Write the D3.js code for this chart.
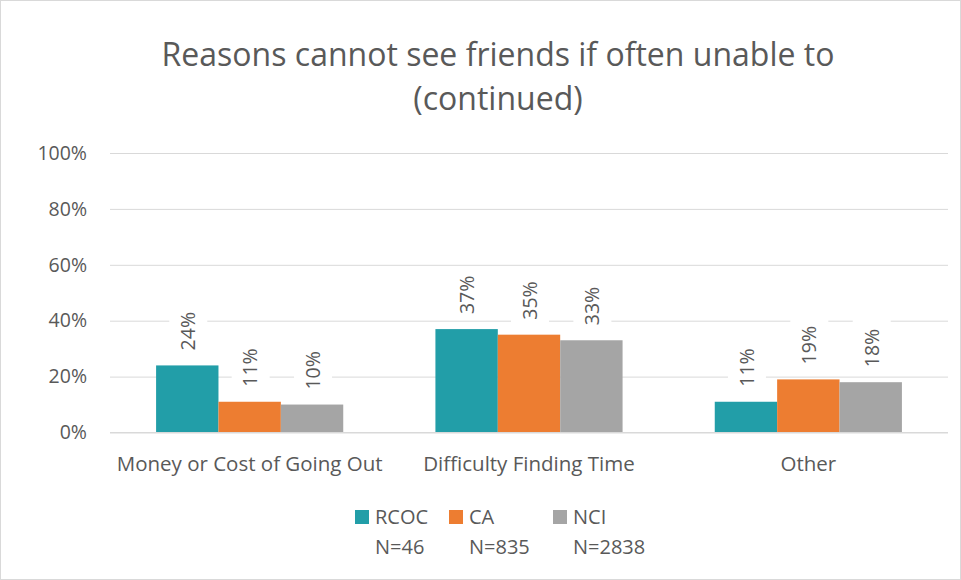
<!DOCTYPE html>
<html>
<head>
<meta charset="utf-8">
<script src="https://cdn.jsdelivr.net/npm/d3@7"></script>
<style>
  body { margin: 0; background: #fff; }
  svg { display: block; font-family: "Open Sans", "Liberation Sans", sans-serif; }
</style>
</head>
<body>
<svg id="chart" width="961" height="580"></svg>
<script>
// Chart data
const titleLines = ["Reasons cannot see friends if often unable to", "(continued)"];
const categories = ["Money or Cost of Going Out", "Difficulty Finding Time", "Other"];
const seriesNames = ["RCOC", "CA", "NCI"];
const seriesN = ["N=46", "N=835", "N=2838"];
const seriesColors = ["#229ea8", "#ed7d31", "#a5a5a5"];
const rcoc = [24, 37, 11];
const ca = [11, 35, 19];
const nci = [10, 33, 18];
const yTicks = [0, 20, 40, 60, 80, 100];

const seriesValues = [rcoc, ca, nci];

const svg = d3.select("#chart");
const W = 961, H = 580;
const textColor = "#595959";

// Outer chart border
svg.append("rect")
  .attr("x", 0.5).attr("y", 0.5)
  .attr("width", W - 1).attr("height", H - 1)
  .attr("fill", "#fff").attr("stroke", "#d9d9d9");

// Title
svg.append("g").selectAll("text")
  .data(titleLines)
  .join("text")
  .attr("x", 498)
  .attr("y", (d, i) => 66 + i * 44)
  .attr("text-anchor", "middle")
  .attr("font-size", 32)
  .attr("fill", textColor)
  .text(d => d);

const plot = { left: 110, right: 948, top: 153, bottom: 432.5 };

const x0 = d3.scaleBand()
  .domain(categories)
  .range([plot.left, plot.right])
  .paddingInner(0.33)
  .paddingOuter(0.165);

const x1 = d3.scaleBand()
  .domain(seriesNames)
  .range([0, x0.bandwidth()])
  .padding(0);

const y = d3.scaleLinear()
  .domain([0, 100])
  .range([plot.bottom, plot.top]);

// Gridlines and y-axis labels
const yAxis = d3.axisLeft(y)
  .tickValues(yTicks)
  .tickSize(-(plot.right - plot.left))
  .tickPadding(23)
  .tickFormat(d => d + "%");

const gy = svg.append("g")
  .attr("transform", `translate(${plot.left},0)`)
  .call(yAxis);
gy.select(".domain").remove();
gy.selectAll(".tick line").attr("stroke", "#d9d9d9").attr("stroke-width", 1);
gy.selectAll(".tick text")
  .attr("fill", textColor)
  .attr("font-size", 19.5)
  .attr("font-family", "Open Sans, Liberation Sans, sans-serif");

// Bars
const groups = svg.append("g").selectAll("g")
  .data(categories)
  .join("g")
  .attr("transform", d => `translate(${x0(d)},0)`);

const cells = groups.selectAll("g")
  .data((c, ci) => seriesNames.map((s, si) => ({ s, si, v: seriesValues[si][ci] })))
  .join("g");

cells.append("rect")
  .attr("x", d => x1(d.s))
  .attr("y", d => y(d.v))
  .attr("width", x1.bandwidth())
  .attr("height", d => y(0) - y(d.v))
  .attr("fill", d => seriesColors[d.si]);

// Rotated value labels with white backing
const labels = cells.append("g")
  .attr("transform", d => `translate(${x1(d.s) + x1.bandwidth() / 2 + 1},${y(d.v) - 15}) rotate(-90)`);

labels.append("rect")
  .attr("x", -6)
  .attr("y", -19)
  .attr("width", 54)
  .attr("height", 38)
  .attr("fill", "#fff");

labels.append("text")
  .attr("x", 0)
  .attr("y", 0)
  .attr("dy", "0.35em")
  .attr("font-size", 19.5)
  .attr("fill", textColor)
  .text(d => d.v + "%");

// Category axis line and labels
svg.append("line")
  .attr("x1", plot.left).attr("x2", plot.right)
  .attr("y1", plot.bottom).attr("y2", plot.bottom)
  .attr("stroke", "#d9d9d9");

svg.append("g").selectAll("text")
  .data(categories)
  .join("text")
  .attr("x", d => x0(d) + x0.bandwidth() / 2)
  .attr("y", 471)
  .attr("text-anchor", "middle")
  .attr("font-size", 20.5)
  .attr("fill", textColor)
  .text(d => d);

// Legend
const legendX = [355, 449, 553];
const legend = svg.append("g").selectAll("g")
  .data(seriesNames)
  .join("g")
  .attr("transform", (d, i) => `translate(${legendX[i]},0)`);

legend.append("rect")
  .attr("x", 0).attr("y", 510)
  .attr("width", 14).attr("height", 14)
  .attr("fill", (d, i) => seriesColors[i]);

legend.append("text")
  .attr("x", 20).attr("y", 524)
  .attr("font-size", 20)
  .attr("fill", textColor)
  .text(d => d);

legend.append("text")
  .attr("x", 20).attr("y", 554)
  .attr("font-size", 20)
  .attr("fill", textColor)
  .text((d, i) => seriesN[i]);
</script>
</body>
</html>
